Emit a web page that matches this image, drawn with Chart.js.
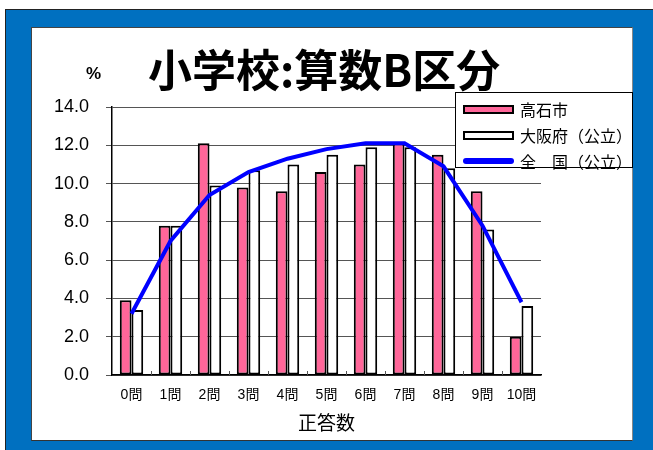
<!DOCTYPE html>
<html>
<head>
<meta charset="utf-8">
<script src="https://cdn.jsdelivr.net/npm/chart.js@4"></script>
<style>
  body { margin: 0; background: #fff; font-family: 'Liberation Sans', 'Noto Sans CJK JP', sans-serif; }
  .frame { position: absolute; left: 5px; top: 9px; width: 648px; height: 441px; background: #0070c0; border-left: 1px solid #222; border-top: 1px solid #222; }
  .panel { position: absolute; left: 31px; top: 27px; width: 600px; height: 412px; background: #fff; border: 1px solid #444; border-right-color: #888; border-bottom-color: #333; }
  #chart-wrap { position: absolute; left: 0; top: 0; width: 653px; height: 450px; }
  .chart__title { position: absolute; left: 148px; top: 40px; font: bold 44px 'Noto Sans CJK JP', sans-serif; line-height: 56px; white-space: pre; }
  .chart__unit { position: absolute; left: 86px; top: 64px; font: bold 17px 'Liberation Sans', sans-serif; }
  #chart__legend { position: absolute; left: 455px; top: 92px; width: 178px; height: 76px; background: #fff; border: 1px solid #000; box-sizing: border-box; }
  .chart__legend { list-style: none; margin: 0; padding: 3px 0 0 7px; }
  .legend__list-item { display: flex; align-items: center; height: 26px; }
  .legend-item__icon { display: inline-block; width: 51px; height: 9px; box-sizing: border-box; margin-right: 6px; }
  .legend-item__text { margin: 0; font: 16px 'Noto Sans CJK JP', sans-serif; color: #000; white-space: pre; }
</style>
</head>
<body>
<div class="frame"></div>
<div class="panel"></div>
<div id="chart-wrap"><canvas id="bar-chart" width="653" height="450"></canvas></div>
<div class="chart__unit">%</div>
<div class="chart__title">小学校:算数B区分</div>
<div id="chart__legend"></div>
<script>
const categories = ['0問', '1問', '2問', '3問', '4問', '5問', '6問', '7問', '8問', '9問', '10問']
const takaishi = [3.9, 7.8, 12.1, 9.8, 9.6, 10.6, 11.0, 12.1, 11.5, 9.6, 2.0]
const osaka = [3.4, 7.8, 9.9, 10.7, 11.0, 11.5, 11.9, 11.9, 10.8, 7.6, 3.6]
const zenkoku = [3.2, 7.0, 9.4, 10.6, 11.3, 11.8, 12.1, 12.1, 10.9, 7.8, 3.8]
const yTicks = [0, 2, 4, 6, 8, 10, 12, 14]

const barChart = document.getElementById('bar-chart')

const htmlLegendPlugin = {
  id: 'htmlLegend',
  afterUpdate(chart, args, options) {
    const box = document.getElementById(options.containerID)
    box.innerHTML = ''
    const ul = document.createElement('ul')
    ul.classList.add('chart__legend')
    chart.data.datasets.forEach(ds => {
      const li = document.createElement('li')
      li.classList.add('legend__list-item')
      const icon = document.createElement('span')
      icon.classList.add('legend-item__icon')
      if (ds.type === 'line') {
        icon.style.background = ds.borderColor
        icon.style.height = '6px'
        icon.style.borderRadius = '3px'
      } else {
        icon.style.background = ds.backgroundColor
        icon.style.border = '2px solid #000'
      }
      const text = document.createElement('p')
      text.classList.add('legend-item__text')
      text.textContent = ds.label
      li.appendChild(icon)
      li.appendChild(text)
      ul.appendChild(li)
    })
    box.appendChild(ul)
  }
}

// small upward ticks on the x axis between categories
const xBoundaryTicks = {
  id: 'xBoundaryTicks',
  afterDatasetsDraw(chart) {
    const {ctx, scales: {x}, chartArea} = chart
    const step = (chartArea.right - chartArea.left) / categories.length
    ctx.save()
    ctx.strokeStyle = '#555'
    ctx.lineWidth = 1
    for (let i = 1; i < categories.length; i++) {
      const px = Math.round(chartArea.left + step * i) + 0.5
      ctx.beginPath()
      ctx.moveTo(px, chartArea.bottom)
      ctx.lineTo(px, chartArea.bottom - 4)
      ctx.stroke()
    }
    ctx.restore()
  }
}

new Chart(barChart, {
  type: 'bar',
  data: {
    labels: categories,
    datasets: [{
      label: '高石市',
      data: takaishi,
      backgroundColor: '#ff6699',
      borderColor: '#000',
      borderWidth: 2,
      borderSkipped: false,
      order: 1,
    },
    {
      label: '大阪府（公立）',
      data: osaka,
      backgroundColor: '#fff',
      borderColor: '#000',
      borderWidth: 2,
      borderSkipped: false,
      order: 2,
    },
    {
      type: 'line',
      label: '全　国（公立）',
      data: zenkoku,
      borderColor: '#0000ff',
      borderWidth: 4,
      pointRadius: 0,
      tension: 0,
      order: 0,
    }],
  },
  options: {
    responsive: false,
    animation: false,
    layout: { padding: { left: 0, right: 112, top: 107, bottom: 0 } },
    datasets: { bar: { categoryPercentage: 0.6, barPercentage: 1.0 } },
    scales: {
      y: {
        min: 0,
        max: 14,
        afterFit(scale) { scale.width = 112 },
        afterBuildTicks(scale) { scale.ticks = yTicks.map(v => ({ value: v })) },
        ticks: {
          padding: 17,
          color: '#000',
          font: { family: 'Liberation Sans', size: 18 },
          callback: value => value.toFixed(1)
        },
        grid: { color: '#555', lineWidth: 1, tickLength: 6 },
        border: { color: '#000', width: 1.5 }
      },
      x: {
        afterFit(scale) { scale.height = 75 },
        ticks: {
          padding: 4,
          color: '#000',
          font: { family: "'Liberation Sans', 'Noto Sans CJK JP'", size: 14 },
          maxRotation: 0
        },
        grid: { display: false },
        border: { color: '#000', width: 1.5 },
        title: {
          display: true,
          text: '正答数',
          color: '#000',
          font: { family: 'Noto Sans CJK JP', size: 19 },
          padding: { top: 0, bottom: 16 }
        }
      }
    },
    plugins: {
      htmlLegend: { containerID: 'chart__legend' },
      legend: { display: false },
      tooltip: { enabled: false }
    }
  },
  plugins: [htmlLegendPlugin, xBoundaryTicks]
})
</script>
</body>
</html>
